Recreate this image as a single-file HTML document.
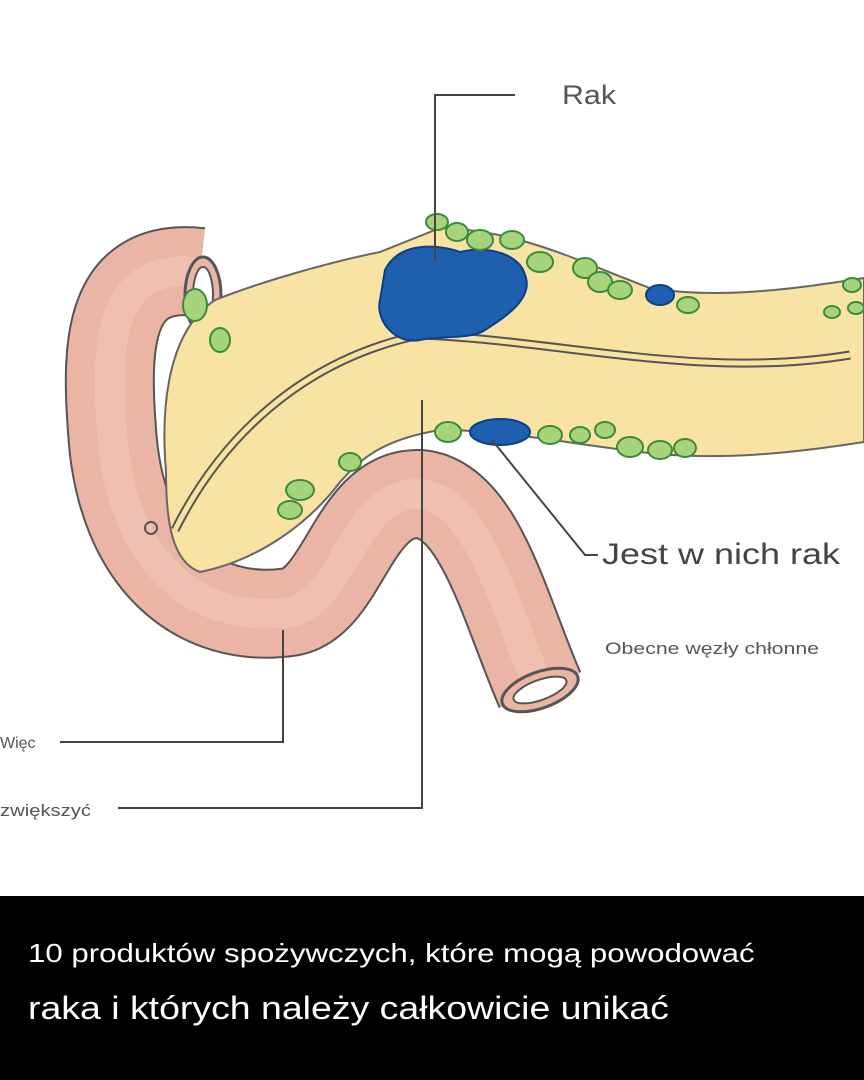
<!DOCTYPE html>
<html><head><meta charset="utf-8"><style>
html,body{margin:0;padding:0;width:864px;height:1080px;overflow:hidden;background:#fff;font-family:"Liberation Sans",sans-serif}
.band{position:absolute;left:0;top:896px;width:864px;height:184px;background:#000}
.t1{position:absolute;left:28px;top:938px;color:#fff;font-size:26px;transform:scaleX(1.2);transform-origin:0 0;white-space:nowrap}
.t2{position:absolute;left:28px;top:990px;color:#fff;font-size:32px;transform:scaleX(1.17);transform-origin:0 0;white-space:nowrap}
</style></head><body>
<svg width="864" height="896" style="position:absolute;left:0;top:0">
<path d="M200 272 C110 262,105 340,112 430 C120 565,200 625,290 612 C345 602,352 492,420 494 C480 500,505 610,540 690" fill="none" stroke="#555" stroke-width="90"/>
<path d="M200 272 C110 262,105 340,112 430 C120 565,200 625,290 612 C345 602,352 492,420 494 C480 500,505 610,540 690" fill="none" stroke="#eab5a4" stroke-width="86"/>
<path d="M200 272 C110 262,105 340,112 430 C120 565,200 625,290 612 C345 602,352 492,420 494 C480 500,505 610,540 690" fill="none" stroke="#f2c7b9" stroke-width="30" opacity="0.6"/>
<ellipse cx="540" cy="690" rx="40" ry="18" transform="rotate(-20 540 690)" fill="#eab5a4" stroke="#555" stroke-width="3"/>
<ellipse cx="540" cy="690" rx="28" ry="10" transform="rotate(-20 540 690)" fill="#fff" stroke="#555" stroke-width="2"/>
<ellipse cx="203" cy="295" rx="18" ry="38" fill="#eab5a4" stroke="#555" stroke-width="3"/>
<ellipse cx="203" cy="295" rx="10" ry="28" fill="#fff" stroke="#555" stroke-width="2"/>
<path d="M215 300 C260 282,330 262,380 252 L440 228 C520 230,580 262,650 288 C720 300,800 288,864 278 L864 442 C800 452,720 462,640 452 C560 442,500 430,440 430 C380 440,360 460,340 482 C310 522,260 560,200 572 C172 562,166 522,166 472 C160 400,170 330,215 300 Z" fill="#f8e3a2" stroke="#666" stroke-width="2"/>
<path d="M175 530 C220 440,300 360,420 335 C560 340,700 380,850 355" fill="none" stroke="#555" stroke-width="9"/>
<path d="M175 530 C220 440,300 360,420 335 C560 340,700 380,850 355" fill="none" stroke="#f8e3a2" stroke-width="5"/>
<path d="M385 270 C400 240,440 245,460 252 C490 245,520 255,525 275 C535 300,500 320,485 330 C470 340,440 335,420 340 C395 345,375 320,380 300 Z" fill="#1f5fb0" stroke="#0d3f85" stroke-width="2"/>
<ellipse cx="500" cy="432" rx="30" ry="13" fill="#1f5fb0" stroke="#0d3f85" stroke-width="2"/>
<ellipse cx="660" cy="295" rx="14" ry="10" fill="#1f5fb0" stroke="#0d3f85" stroke-width="2"/>
<g fill="#a6d47a" stroke="#3c8a3c" stroke-width="2">
<ellipse cx="437" cy="222" rx="11" ry="8"/><ellipse cx="457" cy="232" rx="11" ry="9"/><ellipse cx="480" cy="240" rx="13" ry="10"/><ellipse cx="512" cy="240" rx="12" ry="9"/>
<ellipse cx="540" cy="262" rx="13" ry="10"/><ellipse cx="585" cy="268" rx="12" ry="10"/><ellipse cx="600" cy="282" rx="12" ry="10"/><ellipse cx="620" cy="290" rx="12" ry="9"/><ellipse cx="688" cy="305" rx="11" ry="8"/>
<ellipse cx="852" cy="285" rx="9" ry="7"/><ellipse cx="832" cy="312" rx="8" ry="6"/><ellipse cx="856" cy="308" rx="8" ry="6"/>
<ellipse cx="448" cy="432" rx="13" ry="10"/><ellipse cx="550" cy="435" rx="12" ry="9"/><ellipse cx="580" cy="435" rx="10" ry="8"/><ellipse cx="605" cy="430" rx="10" ry="8"/>
<ellipse cx="630" cy="447" rx="13" ry="10"/><ellipse cx="660" cy="450" rx="12" ry="9"/><ellipse cx="685" cy="448" rx="11" ry="9"/>
<ellipse cx="195" cy="305" rx="12" ry="16"/><ellipse cx="220" cy="340" rx="10" ry="12"/><ellipse cx="350" cy="462" rx="11" ry="9"/>
<ellipse cx="300" cy="490" rx="14" ry="10"/><ellipse cx="290" cy="510" rx="12" ry="9"/>
</g>
<circle cx="151" cy="528" r="6" fill="none" stroke="#555" stroke-width="2"/>
<g fill="none" stroke="#444" stroke-width="2">
<path d="M515 95 H435 V262"/>
<path d="M492 440 L585 555 H598"/>
<path d="M60 742 H283 V630"/>
<path d="M118 808 H422 V400"/>
</g>
<g font-family="Liberation Sans, sans-serif" fill="#555">
<text x="562" y="104" font-size="27" textLength="54" lengthAdjust="spacingAndGlyphs">Rak</text>
<text x="602" y="564" font-size="30" fill="#444" textLength="238" lengthAdjust="spacingAndGlyphs">Jest w nich rak</text>
<text x="605" y="654" font-size="17" textLength="214" lengthAdjust="spacingAndGlyphs">Obecne węzły chłonne</text>
<text x="0" y="748" font-size="16">Więc</text>
<text x="0" y="816" font-size="17" textLength="91" lengthAdjust="spacingAndGlyphs">zwiększyć</text>
</g>
</svg>
<div class="band"></div>
<div class="t1">10 produktów spożywczych, które mogą powodować</div>
<div class="t2">raka i których należy całkowicie unikać</div>
</body></html>
